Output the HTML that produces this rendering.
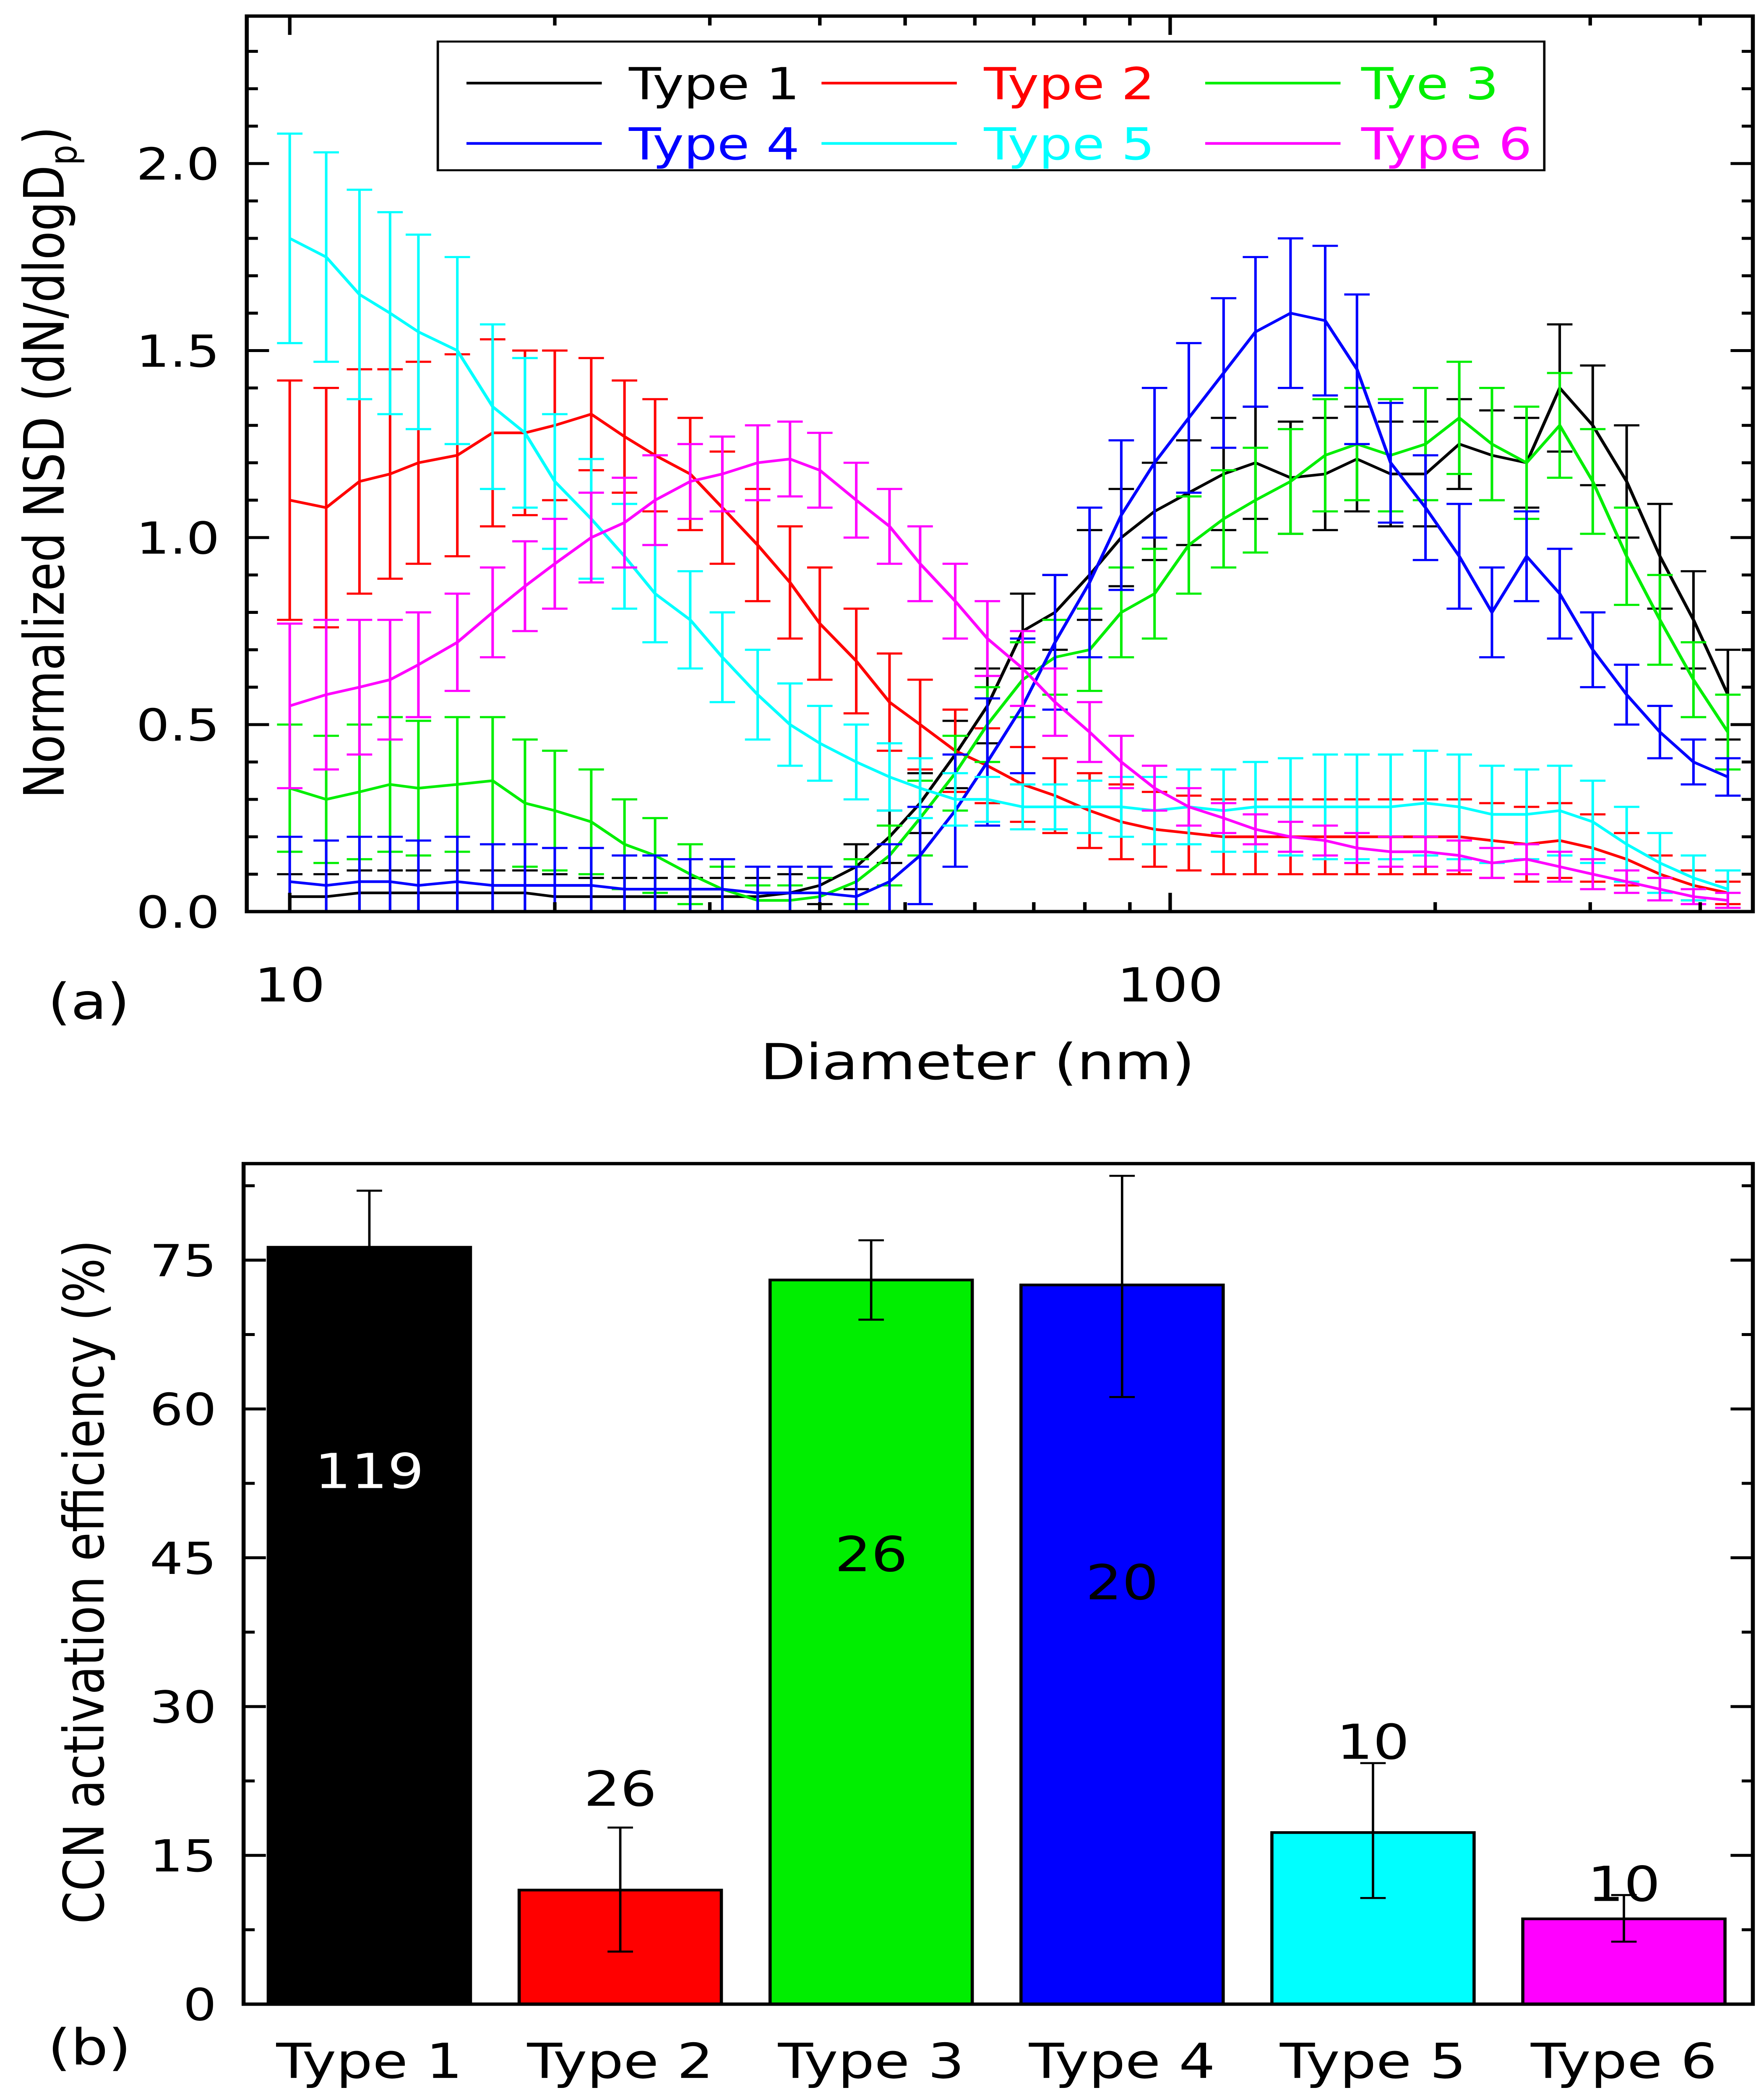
<!DOCTYPE html>
<html><head><meta charset="utf-8"><style>
html,body{margin:0;padding:0;background:#fff;overflow:hidden;width:100%;height:100%;}
svg{display:block;width:100vw;height:100vh;font-family:"DejaVu Sans","Liberation Sans",sans-serif;}
</style></head><body>
<svg id="fig" xmlns="http://www.w3.org/2000/svg" viewBox="0 0 1108 1565" preserveAspectRatio="none">
<g id="topPanel"></g>
<g id="botPanel"></g>
</svg>
<script>
const diam=[10,11,12,13,14,15.5,17,18.5,20,22,24,26,28.5,31,34,37,40,44,48,52,57,62,68,74,81,88,96,105,115,125,137,150,163,178,195,213,232,254,277,302,330,360,393,430];
const t1=[0.04,0.04,0.05,0.05,0.05,0.05,0.05,0.05,0.04,0.04,0.04,0.04,0.04,0.04,0.04,0.05,0.07,0.12,0.2,0.29,0.42,0.55,0.75,0.8,0.9,1.0,1.07,1.12,1.17,1.2,1.16,1.17,1.21,1.17,1.17,1.25,1.22,1.2,1.4,1.3,1.15,0.95,0.78,0.58];
const e1=[0.06,0.06,0.06,0.06,0.06,0.06,0.06,0.06,0.06,0.05,0.05,0.05,0.05,0.05,0.05,0.05,0.05,0.06,0.07,0.08,0.09,0.1,0.1,0.1,0.12,0.13,0.13,0.14,0.15,0.15,0.15,0.15,0.14,0.14,0.14,0.12,0.12,0.12,0.17,0.16,0.15,0.14,0.13,0.12];
const t2=[1.1,1.08,1.15,1.17,1.2,1.22,1.28,1.28,1.3,1.33,1.27,1.22,1.17,1.08,0.98,0.88,0.77,0.67,0.56,0.5,0.43,0.39,0.34,0.31,0.27,0.24,0.22,0.21,0.2,0.2,0.2,0.2,0.2,0.2,0.2,0.2,0.19,0.18,0.19,0.17,0.14,0.1,0.07,0.05];
const e2=[0.32,0.32,0.3,0.28,0.27,0.27,0.25,0.22,0.2,0.15,0.15,0.15,0.15,0.15,0.15,0.15,0.15,0.14,0.13,0.12,0.11,0.1,0.1,0.1,0.1,0.1,0.1,0.1,0.1,0.1,0.1,0.1,0.1,0.1,0.1,0.1,0.1,0.1,0.1,0.09,0.07,0.05,0.04,0.03];
const t3=[0.33,0.3,0.32,0.34,0.33,0.34,0.35,0.29,0.27,0.24,0.18,0.15,0.1,0.06,0.03,0.03,0.04,0.08,0.15,0.25,0.37,0.5,0.62,0.68,0.7,0.8,0.85,0.98,1.05,1.1,1.15,1.22,1.25,1.22,1.25,1.32,1.25,1.2,1.3,1.15,0.95,0.78,0.62,0.48];
const e3=[0.17,0.17,0.18,0.18,0.18,0.18,0.17,0.17,0.16,0.14,0.12,0.1,0.08,0.06,0.04,0.04,0.05,0.06,0.08,0.1,0.1,0.1,0.1,0.1,0.11,0.12,0.12,0.13,0.13,0.14,0.14,0.15,0.15,0.15,0.15,0.15,0.15,0.15,0.14,0.14,0.13,0.12,0.1,0.1];
const t4=[0.08,0.07,0.08,0.08,0.07,0.08,0.07,0.07,0.07,0.07,0.06,0.06,0.06,0.06,0.05,0.05,0.05,0.04,0.08,0.15,0.27,0.4,0.55,0.72,0.88,1.06,1.2,1.32,1.44,1.55,1.6,1.58,1.45,1.2,1.08,0.95,0.8,0.95,0.85,0.7,0.58,0.48,0.4,0.36];
const e4=[0.12,0.12,0.12,0.12,0.12,0.12,0.11,0.11,0.1,0.1,0.09,0.09,0.08,0.08,0.07,0.07,0.07,0.08,0.1,0.13,0.15,0.17,0.18,0.18,0.2,0.2,0.2,0.2,0.2,0.2,0.2,0.2,0.2,0.16,0.14,0.14,0.12,0.12,0.12,0.1,0.08,0.07,0.06,0.05];
const t5=[1.8,1.75,1.65,1.6,1.55,1.5,1.35,1.28,1.15,1.05,0.95,0.85,0.78,0.68,0.58,0.5,0.45,0.4,0.36,0.33,0.3,0.3,0.28,0.28,0.28,0.28,0.27,0.28,0.27,0.28,0.28,0.28,0.28,0.28,0.29,0.28,0.26,0.26,0.27,0.24,0.18,0.13,0.09,0.06];
const e5=[0.28,0.28,0.28,0.27,0.26,0.25,0.22,0.2,0.18,0.16,0.14,0.13,0.13,0.12,0.12,0.11,0.1,0.1,0.09,0.08,0.07,0.06,0.06,0.06,0.07,0.08,0.09,0.1,0.11,0.12,0.13,0.14,0.14,0.14,0.14,0.14,0.13,0.12,0.12,0.11,0.1,0.08,0.06,0.05];
const t6=[0.55,0.58,0.6,0.62,0.66,0.72,0.8,0.87,0.93,1.0,1.04,1.1,1.15,1.17,1.2,1.21,1.18,1.1,1.03,0.93,0.83,0.73,0.65,0.56,0.48,0.4,0.33,0.28,0.25,0.22,0.2,0.19,0.17,0.16,0.16,0.15,0.13,0.14,0.12,0.1,0.08,0.06,0.04,0.03];
const e6=[0.22,0.2,0.18,0.16,0.14,0.13,0.12,0.12,0.12,0.12,0.12,0.12,0.1,0.1,0.1,0.1,0.1,0.1,0.1,0.1,0.1,0.1,0.1,0.09,0.08,0.07,0.06,0.05,0.04,0.04,0.04,0.04,0.04,0.04,0.04,0.04,0.04,0.04,0.04,0.04,0.03,0.03,0.02,0.02];
const seriesNames=["Type 1","Type 2","Tye 3","Type 4","Type 5","Type 6"];
const colors=["#000000","#ff0000","#00ee00","#0000ff","#00ffff","#ff00ff"];
const yTicksTop=[0,0.5,1.0,1.5,2.0];
const xTickLabelsTop=[10,100];
const barCats=["Type 1","Type 2","Type 3","Type 4","Type 5","Type 6"];
const barVals=[76.3,11.5,73,72.5,17.3,8.6];
const barHi=[82,17.8,77,83.5,24.3,11];
const barLo=[76.3,5.3,69,61.2,10.7,6.3];
const barCounts=["119","26","26","20","10","10"];
const yTicksBot=[0,15,30,45,60,75];

const NS="http://www.w3.org/2000/svg";
function mk(parent,tag,attrs,text){const e=document.createElementNS(NS,tag);for(const k in attrs)e.setAttribute(k,attrs[k]);if(text!==undefined)e.textContent=text;parent.appendChild(e);return e;}

// ---- top panel ----
const topG=document.getElementById('topPanel');
const L=155,R=1101,T=12,B=680;
const xs=d=>182+553*Math.log10(d/10);
const ys=v=>B-279*v;
const ser=[[t1,e1],[t2,e2],[t3,e3],[t4,e4],[t5,e5],[t6,e6]];
[0,1,2,3,4,5].forEach(s=>{
  const g=mk(topG,'g',{});
  
  
  const v=ser[s][0],er=ser[s][1];
  let p='';
  diam.forEach((d,i)=>{
    const x=xs(d),y1=ys(Math.max(0,v[i]-er[i])),y2=ys(v[i]+er[i]);
    p+='M'+x+','+y1+'V'+y2+'M'+(x-8)+','+y2+'H'+(x+8)+'M'+(x-8)+','+y1+'H'+(x+8);
  });
  const eb=mk(g,'path',{d:p,stroke:colors[s],'stroke-width':1.6,fill:'none'});
  
  
  const ln=mk(g,'polyline',{points:diam.map((d,i)=>xs(d)+','+ys(v[i])).join(' '),stroke:colors[s],'stroke-width':2,fill:'none'});
  
  
});
mk(topG,'rect',{x:0,y:B+1.5,width:1108,height:20,fill:'#fff'});
const fr=mk(topG,'rect',{x:L,y:T,width:R-L,height:B-T,fill:'none',stroke:'#000','stroke-width':2.5});


let tp='';
for(let k=0;k<=23;k++){const y=ys(k/10),len=(k%5===0)?14:7;tp+='M'+L+','+y+'H'+(L+len)+'M'+R+','+y+'H'+(R-len);}
[10,100].forEach(dec=>{for(let m=1;m<=9;m++){const d=dec*m;if(d>459)continue;const x=xs(d),len=(m===1)?14:7;tp+='M'+x+','+B+'V'+(B-len)+'M'+x+','+T+'V'+(T+len);}});
mk(topG,'path',{d:tp,stroke:'#000','stroke-width':2.2,fill:'none'});
yTicksTop.forEach(v=>{const t=mk(topG,'text',{x:138,y:ys(v)+12,'font-size':33,'text-anchor':'end'},v.toFixed(1));

});
xTickLabelsTop.forEach(v=>{const t=mk(topG,'text',{x:xs(v),y:747,'font-size':35,'text-anchor':'middle'},String(v));

});
const xt=mk(topG,'text',{x:614,y:805,'font-size':37,'text-anchor':'middle'},'Diameter (nm)');


const yt=mk(topG,'text',{x:0,y:0,'font-size':35,'text-anchor':'middle',transform:'translate(40,345) rotate(-90)'});


mk(yt,'tspan',{},'Normalized NSD (dN/dlogD');
mk(yt,'tspan',{'font-size':24,dy:8},'p');
mk(yt,'tspan',{dy:-8},')');
const pa=mk(topG,'text',{x:30,y:760,'font-size':37},'(a)');


const lg=mk(topG,'g',{});


mk(lg,'rect',{x:275,y:31,width:695,height:96,fill:'#fff',stroke:'#000','stroke-width':1.5});
const lx=[293,516,757],tx=[395,618,855],ly=[62,107];
seriesNames.forEach((n,i)=>{
  const c=i%3,r=Math.floor(i/3);
  const eg=mk(lg,'g',{});
  
  
  mk(eg,'line',{x1:lx[c],x2:lx[c]+85,y1:ly[r],y2:ly[r],stroke:colors[i],'stroke-width':2});
  mk(eg,'text',{x:tx[c],y:ly[r]+12,'font-size':33,fill:colors[i]},n);
});

// ---- bottom panel ----
const botG=document.getElementById('botPanel');
const BL=153,BR=1101,BT=868,BB=1495;
const yb=v=>BB-v*(111/15);
const xb=i=>232+i*157.6;
const bw=127;
barCats.forEach((c,i)=>{
  const g=mk(botG,'g',{});
  
  
  mk(g,'rect',{x:xb(i)-bw/2,y:yb(barVals[i]),width:bw,height:BB-yb(barVals[i]),fill:colors[i],stroke:'#000','stroke-width':2});
  const x=xb(i);
  mk(g,'path',{d:'M'+x+','+yb(barLo[i])+'V'+yb(barHi[i])+'M'+(x-8)+','+yb(barHi[i])+'H'+(x+8)+'M'+(x-8)+','+yb(barLo[i])+'H'+(x+8),stroke:'#000','stroke-width':1.5,fill:'none'});
});
const cntY=[1110,1347,1172,1193,1312,1418];
const cntFill=['#fff','#000','#000','#000','#000','#000'];
barCounts.forEach((c,i)=>{const t=mk(botG,'text',{x:xb(i),y:cntY[i],'font-size':36,'text-anchor':'middle',fill:cntFill[i]},c);

});
const fb=mk(botG,'rect',{x:BL,y:BT,width:BR-BL,height:BB-BT,fill:'none',stroke:'#000','stroke-width':2.5});


let bp='';
for(let v=0;v<=84;v+=7.5){const y=yb(v),len=(v%15===0)?14:7;bp+='M'+BL+','+y+'H'+(BL+len)+'M'+BR+','+y+'H'+(BR-len);}
mk(botG,'path',{d:bp,stroke:'#000','stroke-width':2.2,fill:'none'});
yTicksBot.forEach(v=>{const t=mk(botG,'text',{x:136,y:yb(v)+12,'font-size':33,'text-anchor':'end'},String(v));

});
barCats.forEach((c,i)=>{const t=mk(botG,'text',{x:xb(i),y:1550,'font-size':36,'text-anchor':'middle'},c);

});
const byt=mk(botG,'text',{x:0,y:0,'font-size':35,'text-anchor':'middle',transform:'translate(65,1180) rotate(-90)'},'CCN activation efficiency (%)');


const pb=mk(botG,'text',{x:30,y:1540,'font-size':37},'(b)');


</script>
</body></html>
